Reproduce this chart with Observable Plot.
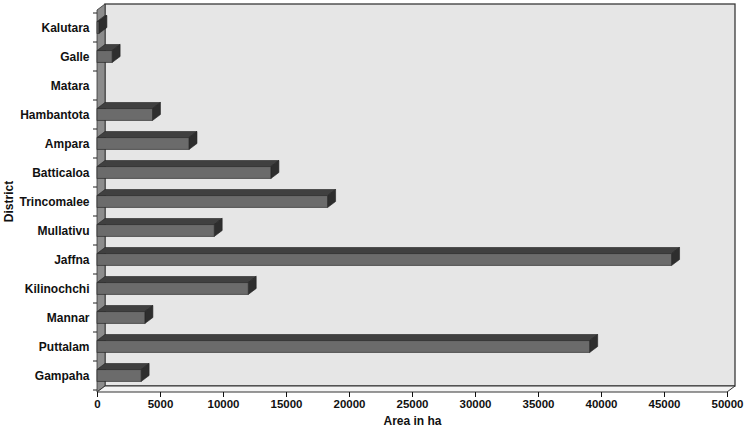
<!DOCTYPE html>
<html><head><meta charset="utf-8">
<script src="https://cdn.jsdelivr.net/npm/d3@7"></script>
<script src="https://cdn.jsdelivr.net/npm/@observablehq/plot@0.6"></script>
<style>
html,body{margin:0;padding:0;background:#fff;}
#chart svg{display:block;}
#chart g[aria-label="x-axis label"] text, #chart g[aria-label="y-axis label"] text{font-weight:bold;font-size:12px;}
</style></head><body><div id="chart"></div><script>
const districts = ["Kalutara","Galle","Matara","Hambantota","Ampara","Batticaloa","Trincomalee","Mullativu","Jaffna","Kilinochchi","Mannar","Puttalam","Gampaha"];
const areaHa = [150, 1200, 0, 4400, 7300, 13800, 18300, 9300, 45600, 12000, 3800, 39100, 3500];
const xTicks = [0, 5000, 10000, 15000, 20000, 25000, 30000, 35000, 40000, 45000, 50000];
const xDomain = [0, 50000];
const xLabel = "Area in ha";
const yLabel = "District";

const data = districts.map((d, i) => ({district: d, area: areaHa[i]})).filter(d => d.area > 0);

const DX = 8, DY = 6, FACE = 12;
const W = 750, H = 428, ML = 97, MR = 23, MT = 10, MB = 36;
const bandW = (H - MT - MB) / districts.length;
const inset = (bandW - FACE) / 2;
const pts = a => a.map(p => p.join(",")).join(" ");

function walls(index, scales, values, dims) {
  const x = scales.x, y = scales.y;
  const [d0, d1] = x.domain();
  const x0 = x(d0), x1 = x(d1);
  const yTop = dims.marginTop, yBot = dims.height - dims.marginBottom;
  const g = d3.create("svg:g");
  g.append("rect").attr("x", x0 + DX).attr("y", yTop - DY).attr("width", x1 - x0).attr("height", yBot - yTop)
    .attr("fill", "#e6e6e6").attr("stroke", "#3a3a3a").attr("stroke-width", 1.3);
  g.append("polygon").attr("points", pts([[x0, yTop], [x0 + DX, yTop - DY], [x0 + DX, yBot - DY], [x0, yBot]]))
    .attr("fill", "#8c8c8c").attr("stroke", "#333").attr("stroke-width", 0.8);
  g.append("polygon").attr("points", pts([[x0, yBot], [x1, yBot], [x1 + DX, yBot - DY], [x0 + DX, yBot - DY]]))
    .attr("fill", "#f3f3f3").attr("stroke", "#333").attr("stroke-width", 1);
  const bw = y.bandwidth ? y.bandwidth() : bandW;
  const bounds = districts.map(d => y(d)).concat([y(districts[districts.length - 1]) + bw]);
  bounds.forEach(b => {
    g.append("line").attr("x1", x0 - 4).attr("x2", x0).attr("y1", b).attr("y2", b).attr("stroke", "#222");
  });
  return g.node();
}

function depthFaces(index, scales, values, dims) {
  const x = scales.x, y = scales.y;
  const bw = y.bandwidth ? y.bandwidth() : bandW;
  const g = d3.create("svg:g");
  data.forEach(d => {
    const xa = x(0), xb = x(d.area);
    const yc = y(d.district) + bw / 2, yt = yc - FACE / 2, yb = yc + FACE / 2;
    g.append("polygon").attr("points", pts([[xa, yt], [xb, yt], [xb + DX, yt - DY], [xa + DX, yt - DY]]))
      .attr("fill", "#404040").attr("stroke", "#222").attr("stroke-width", 0.6);
    g.append("polygon").attr("points", pts([[xb, yt], [xb + DX, yt - DY], [xb + DX, yb - DY], [xb, yb]]))
      .attr("fill", "#2e2e2e").attr("stroke", "#222").attr("stroke-width", 0.6);
  });
  return g.node();
}

const chart = Plot.plot({
  width: W, height: H,
  marginLeft: ML, marginRight: MR, marginTop: MT, marginBottom: MB,
  style: {fontFamily: "'Liberation Sans', Arial, sans-serif", fontSize: "12px", fontWeight: "bold", color: "#111", background: "#fff"},
  x: {domain: xDomain},
  y: {domain: districts, padding: 0},
  marks: [
    walls,
    depthFaces,
    Plot.barX(data, {x: "area", y: "district", fill: "#6b6b6b", stroke: "#2a2a2a", strokeWidth: 0.7, insetTop: inset, insetBottom: inset}),
    Plot.axisX({ticks: xTicks, tickSize: 5, tickPadding: 2, fontSize: 11.5, tickFormat: d3.format("d"), label: xLabel, labelAnchor: "center", labelOffset: 32, labelArrow: "none"}),
    Plot.axisY({tickSize: 0, tickPadding: 8, fontSize: 12, label: yLabel, labelAnchor: "center", labelOffset: 93})
  ]
});
document.getElementById("chart").appendChild(chart);
</script></body></html>
